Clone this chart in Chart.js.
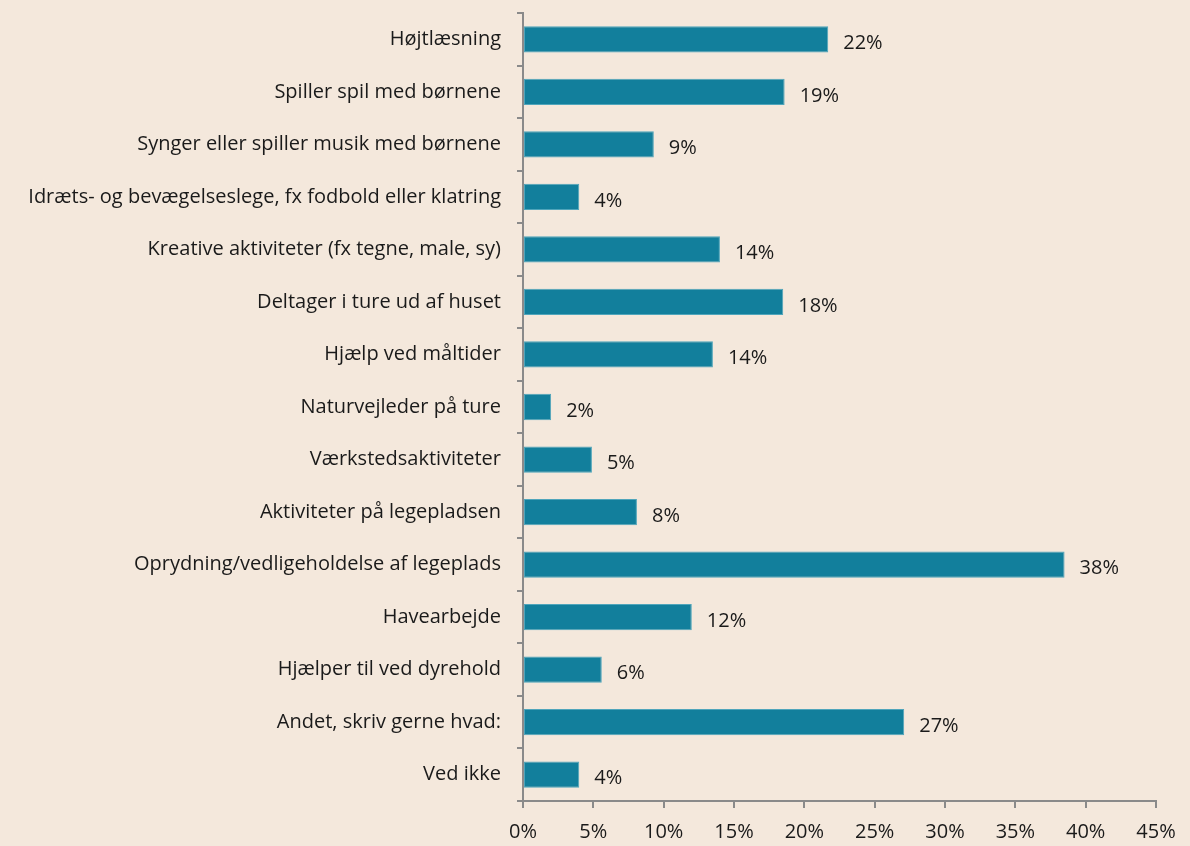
<!DOCTYPE html>
<html>
<head>
<meta charset="utf-8">
<script src="https://cdn.jsdelivr.net/npm/chart.js@4"></script>
<style>
  html, body { margin: 0; padding: 0; background: #f4e8dc; }
  #wrap { width: 1190px; height: 846px; }
</style>
</head>
<body>
<div id="wrap"><canvas id="chart"></canvas></div>
<script>
// Aktiviteter - andel i procent
const categories = [
    'Højtlæsning',
    'Spiller spil med børnene',
    'Synger eller spiller musik med børnene',
    'Idræts- og bevægelseslege, fx fodbold eller klatring',
    'Kreative aktiviteter (fx tegne, male, sy)',
    'Deltager i ture ud af huset',
    'Hjælp ved måltider',
    'Naturvejleder på ture',
    'Værkstedsaktiviteter',
    'Aktiviteter på legepladsen',
    'Oprydning/vedligeholdelse af legeplads',
    'Havearbejde',
    'Hjælper til ved dyrehold',
    'Andet, skriv gerne hvad:',
    'Ved ikke'
];
const values = [21.7, 18.6, 9.3, 4.0, 14.0, 18.5, 13.5, 2.0, 4.9, 8.1, 38.5, 12.0, 5.6, 27.1, 4.0];
const valueLabels = ['22%', '19%', '9%', '4%', '14%', '18%', '14%', '2%', '5%', '8%', '38%', '12%', '6%', '27%', '4%'];
const xTicks = [0, 5, 10, 15, 20, 25, 30, 35, 40, 45];

const fontFamily = '"Open Sans", "Noto Sans", sans-serif';
const axisColor = '#8a8a8a';

// tegner procent-tal ved enden af hver søjle
const barLabels = {
    id: 'barLabels',
    afterDatasetsDraw(chart) {
        const ctx = chart.ctx;
        const meta = chart.getDatasetMeta(0);
        ctx.save();
        ctx.font = '20px ' + fontFamily;
        ctx.fillStyle = '#1a1a1a';
        ctx.textAlign = 'left';
        ctx.textBaseline = 'middle';
        meta.data.forEach((bar, i) => {
            ctx.fillText(valueLabels[i], bar.x + 15, bar.y + 4);
        });
        ctx.restore();
    }
};

const bg = {
    id: 'bg',
    beforeDraw(chart) {
        const ctx = chart.ctx;
        ctx.save();
        ctx.fillStyle = '#f4e8dc';
        ctx.fillRect(0, 0, chart.width, chart.height);
        ctx.restore();
    }
};

new Chart(document.getElementById('chart'), {
    type: 'bar',
    data: {
        labels: categories,
        datasets: [{
            data: values,
            backgroundColor: '#127f9c',
            borderColor: '#4fa5bb',
            borderWidth: 1,
            borderSkipped: false,
            barPercentage: 0.5,
            categoryPercentage: 1.0
        }]
    },
    options: {
        indexAxis: 'y',
        responsive: true,
        maintainAspectRatio: false,
        animation: false,
        layout: { padding: { top: 13, right: 34, left: 0, bottom: 0 } },
        plugins: {
            legend: { display: false },
            tooltip: { enabled: false }
        },
        scales: {
            x: {
                min: 0,
                max: 45,
                afterBuildTicks(scale) {
                    scale.ticks = xTicks.map(v => ({ value: v }));
                },
                afterFit(scale) { scale.height = 45; },
                border: { display: true, color: axisColor, width: 2 },
                grid: {
                    drawOnChartArea: false,
                    drawTicks: true,
                    tickLength: 7,
                    color: axisColor,
                    lineWidth: 2
                },
                ticks: {
                    font: { family: fontFamily, size: 20 },
                    color: '#1a1a1a',
                    padding: 12,
                    callback: v => v + '%'
                }
            },
            y: {
                offset: true,
                afterFit(scale) {
                    scale.width = 523;
                    scale.paddingTop = 0;
                    scale.paddingBottom = 0;
                },
                border: { display: true, color: axisColor, width: 2 },
                grid: {
                    offset: true,
                    drawOnChartArea: false,
                    drawTicks: true,
                    tickLength: 6,
                    color: axisColor,
                    lineWidth: 2
                },
                ticks: {
                    font: { family: fontFamily, size: 20 },
                    color: '#1a1a1a',
                    padding: 16,
                    autoSkip: false
                }
            }
        }
    },
    plugins: [bg, barLabels]
});
</script>
</body>
</html>
